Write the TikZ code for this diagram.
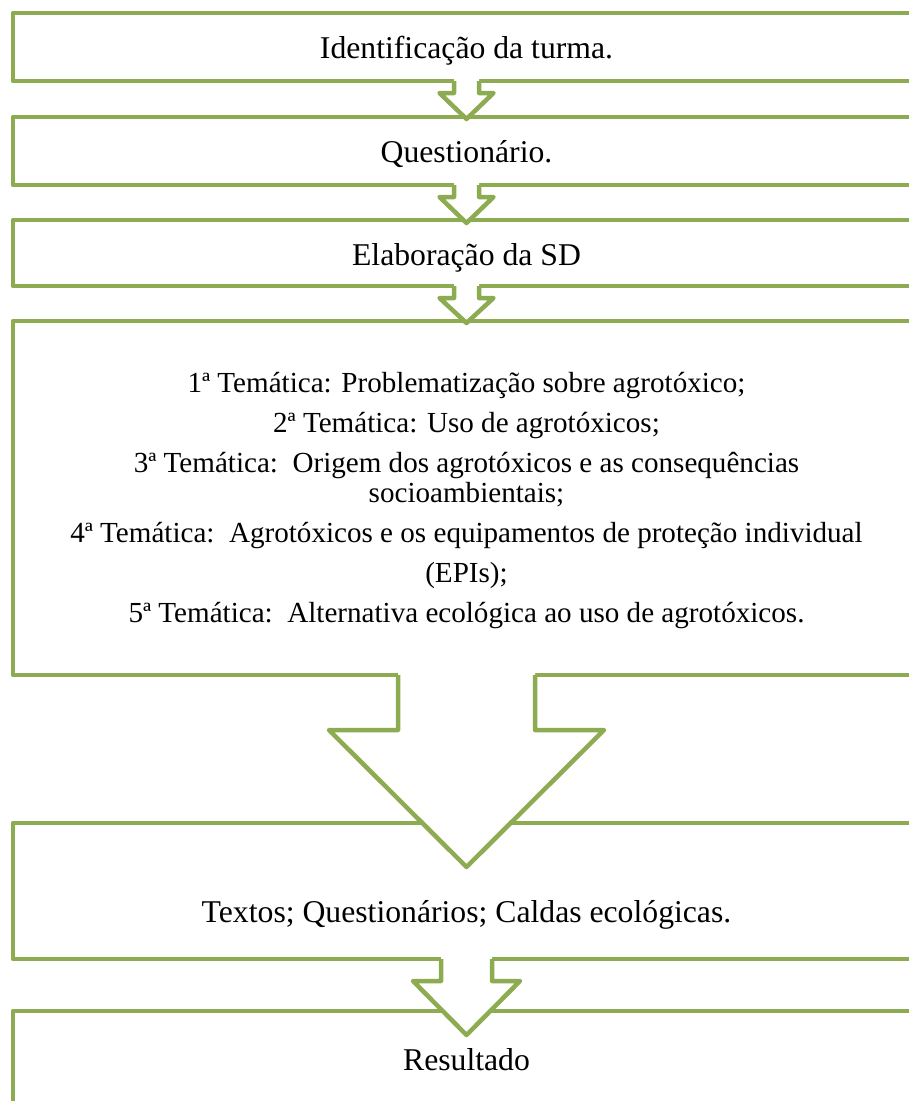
\documentclass[tikz,border=0pt]{standalone}
\usepackage{fontspec}
\setmainfont{Liberation Serif}
\definecolor{boxgreen}{RGB}{141,171,80}
\newcommand\blockarrow[5]{%
  \fill[white] (#1) ++(-#2,-4) -- ++(0,#3+4) -- ++(#2-#4,0) -- ++(#4,#5) -- ++(#4,-#5) -- ++(#2-#4,0) -- ++(0,-#3-4) -- cycle;
  \draw[arrowline] (#1) ++(-#2,0) -- ++(0,#3) -- ++(#2-#4,0) -- ++(#4,#5) -- ++(#4,-#5) -- ++(#2-#4,0) -- ++(0,-#3);
}
\begin{document}
\begin{tikzpicture}[x=1pt,y=-1pt,
  box/.style={draw=boxgreen, line width=4.5pt, line join=round, fill=white, rectangle, inner sep=0pt, outer sep=0pt, minimum width=947pt},
  arrowline/.style={draw=boxgreen, line width=4.5pt, line join=round},
  bigtxt/.style={anchor=base, inner sep=0pt, font=\fontsize{31.7}{38}\selectfont},
  smalltxt/.style={anchor=base, inner sep=0pt, font=\fontsize{29.1}{35}\selectfont}]
\useasboundingbox (0,0) rectangle (909,1101);
\clip (0,0) rectangle (909,1101);
\fill[white] (0,0) rectangle (909,1101);
\coordinate (cx) at (466.5,0);
% boxes
\node[box, minimum height=68pt] (b1) at (486.5,47) {};
\node[box, minimum height=68pt] (b2) at (486.5,151) {};
\node[box, minimum height=66pt] (b3) at (486.5,253) {};
\node[box, minimum height=354pt] (b4) at (486.5,498) {};
\node[box, minimum height=136pt] (b5) at (486.5,891) {};
\node[box, minimum height=150pt] (b6) at (486.5,1086) {};
% block arrows
\blockarrow{b1.south -| cx}{12.5}{12}{27}{26}
\blockarrow{b2.south -| cx}{12.5}{12}{27}{26}
\blockarrow{b3.south -| cx}{12.5}{12}{27}{25}
\blockarrow{b4.south -| cx}{68.5}{55}{137.5}{137}
\blockarrow{b5.south -| cx}{25.5}{22}{53.5}{54}
% texts
\node[bigtxt] (t1) at (466.5,58) {Identificação da turma.};
\node[bigtxt] (t2) at (466.5,162) {Questionário.};
\node[bigtxt] (t3) at (466.5,265) {Elaboração da SD};
\node[smalltxt] (l1) at (466.5,392) {1ª Temática: Problematização sobre agrotóxico;};
\node[smalltxt] (l2) at (466.5,432) {2ª Temática: Uso de agrotóxicos;};
\node[smalltxt] (l3) at (466.5,472) {3ª Temática:\ \ Origem dos agrotóxicos e as consequências};
\node[smalltxt] (l3b) at (466.5,502) {socioambientais;};
\node[smalltxt] (l4) at (466.5,542) {4ª Temática:\ \ Agrotóxicos e os equipamentos de proteção individual};
\node[smalltxt] (l4b) at (466.5,582) {(EPIs);};
\node[smalltxt] (l5) at (466.5,622) {5ª Temática:\ \ Alternativa ecológica ao uso de agrotóxicos.};
\node[bigtxt] (t5) at (466.5,922) {Textos; Questionários; Caldas ecológicas.};
\node[bigtxt] (t6) at (466.5,1070) {Resultado};
\end{tikzpicture}
\end{document}
